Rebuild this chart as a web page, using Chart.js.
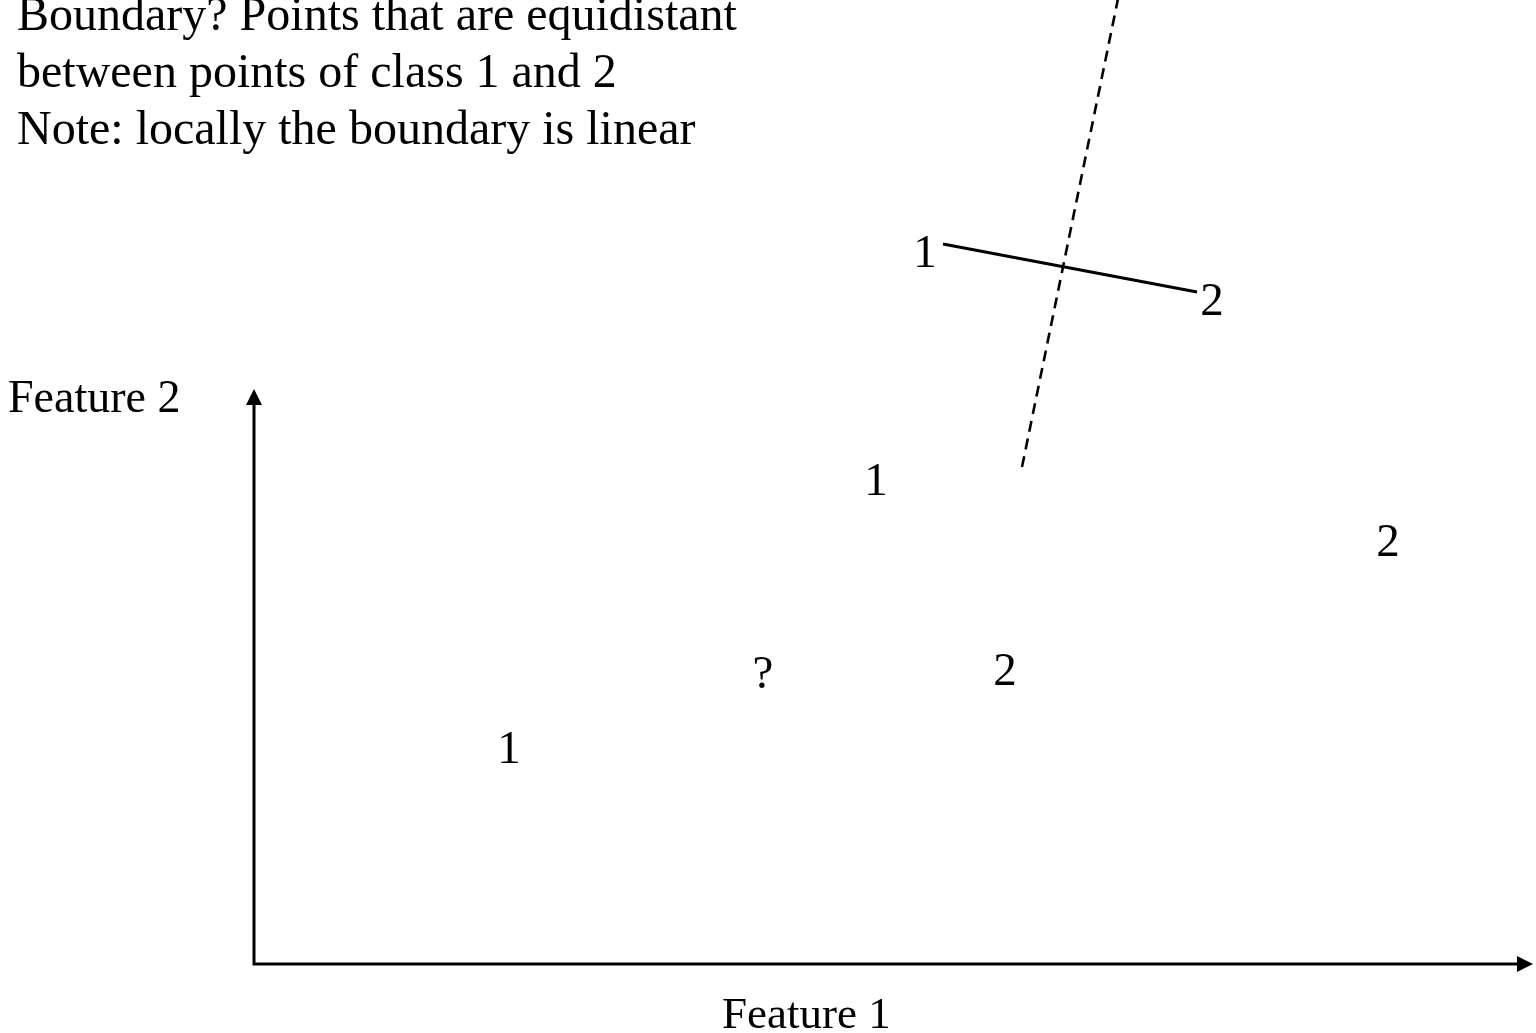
<!DOCTYPE html>
<html>
<head>
<meta charset="utf-8">
<script src="https://cdn.jsdelivr.net/npm/chart.js@4/dist/chart.umd.min.js"></script>
<style>
  html, body { margin: 0; padding: 0; background: #fff; }
  #wrap { width: 1536px; height: 1033px; }
</style>
</head>
<body>
<div id="wrap"><canvas id="canvas"></canvas></div>
<script>
// feature space, labelled training points
var class1X = [2.55, 6.22, 6.71];
var class1Y = [2.17, 4.85, 7.13];
var class2X = [7.51, 11.34, 9.58];
var class2Y = [2.95, 4.24, 6.65];
var queryX = [5.09];
var queryY = [2.92];
// nearest pair and its perpendicular bisector
var pairX = [6.89, 9.43];
var pairY = [7.20, 6.72];
var boundaryX = [7.68, 8.66];
var boundaryY = [4.97, 9.75];
// axis limits
var xMax = 12.79;
var yMax = 5.75;

var notes = [
    "Boundary? Points that are equidistant",
    "between points of class 1 and 2",
    "Note: locally the boundary is linear"
];

function pts(xs, ys) {
    var out = [];
    for (var i = 0; i < xs.length; i++) out.push({x: xs[i], y: ys[i]});
    return out;
}

var SERIF = "'Liberation Serif', 'Times New Roman', serif";

var drawing = {
    id: 'drawing',
    afterDatasetsDraw: function (chart) {
        var ctx = chart.ctx;
        var a = chart.chartArea;
        ctx.save();
        ctx.strokeStyle = '#000';
        ctx.fillStyle = '#000';
        // axes
        ctx.lineWidth = 3;
        ctx.beginPath();
        ctx.moveTo(a.left, a.top + 14);
        ctx.lineTo(a.left, a.bottom);
        ctx.lineTo(a.right - 14, a.bottom);
        ctx.stroke();
        ctx.beginPath();
        ctx.moveTo(a.left, a.top);
        ctx.lineTo(a.left - 8, a.top + 16);
        ctx.lineTo(a.left + 8, a.top + 16);
        ctx.closePath();
        ctx.fill();
        ctx.beginPath();
        ctx.moveTo(a.right, a.bottom);
        ctx.lineTo(a.right - 16, a.bottom - 8);
        ctx.lineTo(a.right - 16, a.bottom + 8);
        ctx.closePath();
        ctx.fill();

        // class labels at each point
        ctx.font = "47px " + SERIF;
        ctx.textAlign = 'center';
        ctx.textBaseline = 'alphabetic';
        chart.data.datasets.forEach(function (ds, i) {
            if (!ds.text) return;
            var meta = chart.getDatasetMeta(i);
            meta.data.forEach(function (el) {
                ctx.fillText(ds.text, el.x, el.y + 16);
            });
        });

        // notes and axis titles
        ctx.textAlign = 'left';
        ctx.font = "48px " + SERIF;
        for (var i = 0; i < notes.length; i++) {
            ctx.fillText(notes[i], 17, 30 + i * 57);
        }
        ctx.font = "46px " + SERIF;
        ctx.fillText('Feature 2', 8, 412);
        ctx.font = "45px " + SERIF;
        ctx.fillText('Feature 1', 722, 1028);
        ctx.restore();
    }
};

var config = {
    type: 'scatter',
    data: {
        datasets: [
            { label: 'Class 1', text: '1', data: pts(class1X, class1Y), pointRadius: 0 },
            { label: 'Class 2', text: '2', data: pts(class2X, class2Y), pointRadius: 0 },
            { label: 'Unknown', text: '?', data: pts(queryX, queryY), pointRadius: 0 },
            {
                label: 'Pair', data: pts(pairX, pairY), showLine: true,
                borderColor: '#000', borderWidth: 3, pointRadius: 0
            },
            {
                label: 'Boundary', data: pts(boundaryX, boundaryY), showLine: true,
                borderColor: '#000', borderWidth: 2.6, borderDash: [11, 7], pointRadius: 0
            }
        ]
    },
    options: {
        responsive: true,
        maintainAspectRatio: false,
        animation: false,
        clip: false,
        layout: { padding: { left: 254, right: 3, top: 389, bottom: 69 } },
        plugins: { legend: { display: false }, tooltip: { enabled: false } },
        scales: {
            x: { type: 'linear', display: false, min: 0, max: xMax },
            y: { type: 'linear', display: false, min: 0, max: yMax }
        }
    },
    plugins: [drawing]
};

window.onload = function () {
    window.myChart = new Chart(document.getElementById('canvas'), config);
};
</script>
</body>
</html>
